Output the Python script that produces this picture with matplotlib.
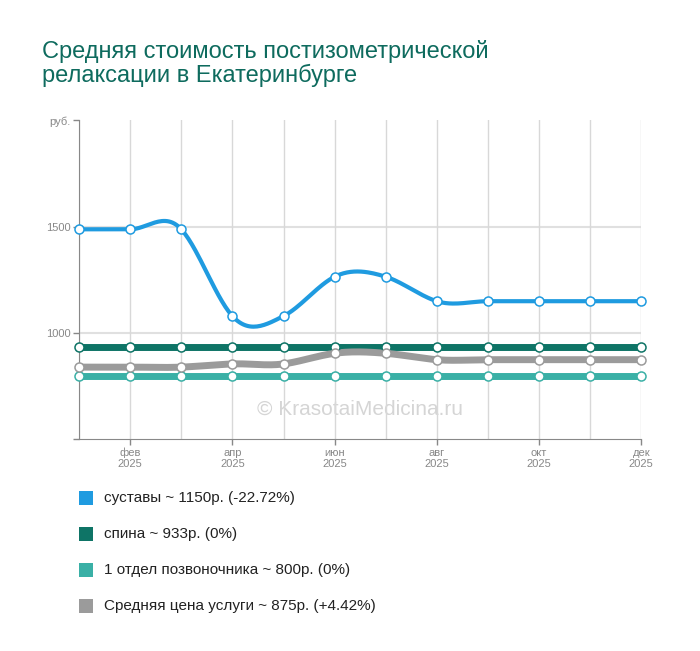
import numpy as np
import matplotlib.pyplot as plt

plt.rcParams["font.family"] = ["Liberation Sans", "DejaVu Sans"]

months = ["янв", "фев", "мар", "апр", "май", "июн", "июл", "авг", "сен", "окт", "ноя", "дек"]
sustavy = [1488, 1488, 1488, 1080, 1080, 1265, 1265, 1150, 1150, 1150, 1150, 1150]
spina = [933] * 12
otdel = [800] * 12
srednyaya = [840, 840, 840, 855, 855, 905, 905, 875, 875, 875, 875, 875]

series = [
    ("суставы ~ 1150р. (-22.72%)", sustavy, "#1f9be0", 3),
    ("спина ~ 933р. (0%)", spina, "#0e7466", 5),
    ("1 отдел позвоночника ~ 800р. (0%)", otdel, "#3ab0a6", 5),
    ("Средняя цена услуги ~ 875р. (+4.42%)", srednyaya, "#9b9b9b", 5),
]


def smooth(y, n=30, k=0.65):
    # cardinal curve through the points
    y = np.asarray(y, float)
    p = np.concatenate([[y[0]], y, [y[-1]]])
    xs, ys = [], []
    for i in range(len(y) - 1):
        t = np.linspace(0, 1, n)
        p1, p2 = p[i + 1], p[i + 2]
        m1 = k * (p[i + 2] - p[i])
        m2 = k * (p[i + 3] - p[i + 1])
        h00 = 2 * t**3 - 3 * t**2 + 1
        h10 = t**3 - 2 * t**2 + t
        h01 = -2 * t**3 + 3 * t**2
        h11 = t**3 - t**2
        xs.append(i + t)
        ys.append(h00 * p1 + h10 * m1 + h01 * p2 + h11 * m2)
    return np.concatenate(xs), np.concatenate(ys)


fig = plt.figure(figsize=(7, 6.51), dpi=100)
ax = fig.add_axes([0.113, 0.325, 0.803, 0.49])
x = np.arange(12)

for label, vals, color, lw in series:
    sx, sy = smooth(vals)
    ax.plot(sx, sy, color=color, lw=lw, solid_capstyle="round", zorder=2)
    ax.plot(x, vals, "o", ms=6.5, mfc="white", mec=color, mew=1.1, zorder=3, clip_on=False)

ax.set_xlim(0, 11)
ax.set_ylim(500, 2000)
ax.set_yticks([500, 1000, 1500, 2000])
ax.set_yticklabels(["", "1000", "1500", "руб."])
ax.set_xticks(x, minor=True)
ax.set_xticks([1, 3, 5, 7, 9, 11])
ax.set_xticklabels([m + "\n2025" for m in months[1::2]], linespacing=1.1)
ax.tick_params(colors="#888888", labelsize=8, length=4, width=1, pad=2)
ax.tick_params(which="minor", length=0)
ax.grid(True, axis="x", which="both", color="#d8d8d8", lw=1, zorder=0)
for yv in [1000, 1500]:
    ax.axhline(yv, color="#e0e0e0", lw=1.5, zorder=0)
for s in ["top", "right"]:
    ax.spines[s].set_visible(False)
ax.spines["left"].set_color("#888888")
ax.spines["bottom"].set_color("#888888")

ax.text(0.5, 0.095, "© KrasotaiMedicina.ru", transform=ax.transAxes, ha="center",
        va="center", fontsize=15, color="#d5d5d5", zorder=1)

fig.text(0.06, 0.903, "Средняя стоимость постизометрической\nрелаксации в Екатеринбурге",
         fontsize=17, color="#0e6b5e", va="center", linespacing=1.05)

for i, (label, vals, color, lw) in enumerate(series):
    yy = 1 - (498 + i * 36) / 651
    fig.patches.append(plt.Rectangle((0.113, yy - 0.011), 0.02, 0.022, transform=fig.transFigure,
                                     facecolor=color, edgecolor="none"))
    fig.text(0.148, yy, label, fontsize=11, va="center", color="#222222")

fig.savefig("out.png", dpi=100, facecolor="white")
